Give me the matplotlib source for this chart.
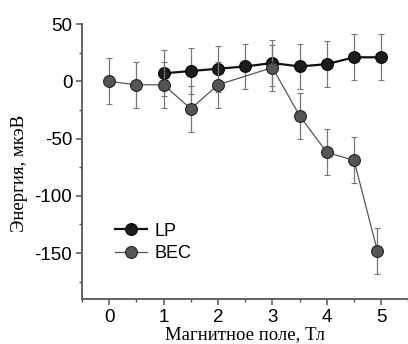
import matplotlib
matplotlib.use('Agg')
import matplotlib.pyplot as plt
from matplotlib.ticker import MultipleLocator

plt.rcParams['axes.unicode_minus'] = False

# Polariton (LP) and condensate (BEC) energy shift vs magnetic field
lp_field = [1.0, 1.5, 2.0, 2.5, 3.0, 3.5, 4.0, 4.5, 5.0]
lp_energy = [7, 9, 11, 13, 16, 13, 15, 21, 21]
lp_err = [20, 20, 20, 20, 20, 20, 20, 20, 20]

bec_field = [0.0, 0.5, 1.0, 1.5, 2.0, 3.0, 3.5, 4.0, 4.5, 4.93]
bec_energy = [0, -3, -3, -24, -3, 12, -30, -62, -69, -148]
bec_err = [20, 20, 20, 20, 20, 20, 20, 20, 20, 20]

fig = plt.figure(figsize=(4.08, 3.44), dpi=100)
ax = fig.add_axes([0.201, 0.131, 0.80, 0.799])

lp = ax.errorbar(lp_field, lp_energy, yerr=lp_err, color='#111111', lw=1.6,
                 marker='o', ms=8.5, mfc='#1c1c1c', mec='#000000', mew=0.8,
                 ecolor='#777777', elinewidth=0.9, capsize=2.5, capthick=0.9,
                 zorder=2)
bec = ax.errorbar(bec_field, bec_energy, yerr=bec_err, color='#555555', lw=0.9,
                  marker='o', ms=8.5, mfc='#555555', mec='#222222', mew=0.8,
                  ecolor='#777777', elinewidth=0.9, capsize=2.5, capthick=0.9,
                  zorder=3)

ax.set_xlim(-0.5, 5.5)
ax.set_ylim(-190, 50)
ax.xaxis.set_major_locator(MultipleLocator(1))
ax.xaxis.set_minor_locator(MultipleLocator(0.5))
ax.yaxis.set_major_locator(MultipleLocator(50))
ax.yaxis.set_minor_locator(MultipleLocator(25))

for side in ['top', 'right']:
    ax.spines[side].set_visible(False)
for side in ['left', 'bottom']:
    ax.spines[side].set_color('#555555')
    ax.spines[side].set_linewidth(1.3)

ax.tick_params(which='major', direction='out', length=4, width=1.1,
               color='#555555', labelsize=13.5, pad=3)
ax.tick_params(which='minor', direction='out', length=2.5, width=1.0,
               color='#555555')
for lbl in ax.get_xticklabels() + ax.get_yticklabels():
    lbl.set_family('Liberation Sans')

ax.set_xlabel('Магнитное поле, Тл', family='Liberation Serif', fontsize=13.5,
              labelpad=0)
ax.set_ylabel('Энергия, мкэВ', family='Liberation Serif', fontsize=13.5)
ax.yaxis.set_label_coords(-0.165, 0.455)

# legend shows only the line+marker, without the error bars
ax.legend([lp[0], bec[0]], ['LP', 'BEC'], loc='lower left',
          bbox_to_anchor=(0.05, 0.075), frameon=False,
          prop={'family': 'Liberation Sans', 'size': 13},
          handlelength=1.8, handletextpad=0.4, labelspacing=0.3)

plt.savefig('out.png', dpi=100)
plt.close()
